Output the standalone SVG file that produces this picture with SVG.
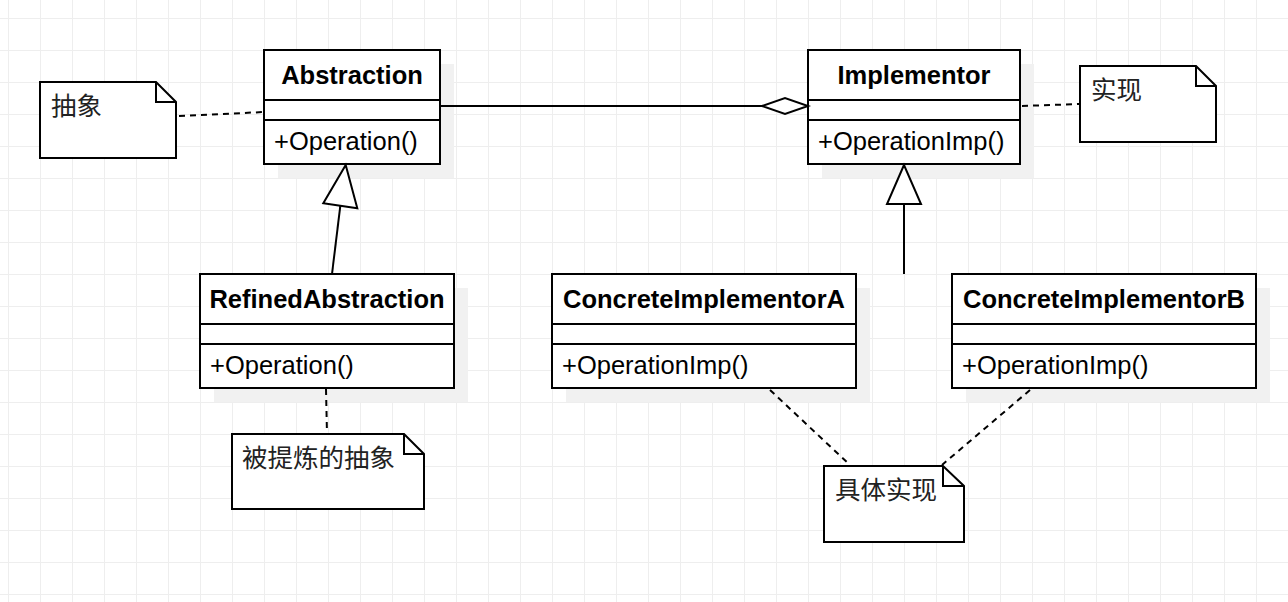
<svg xmlns="http://www.w3.org/2000/svg" width="1288" height="602" viewBox="0 0 1288 602">
<defs>
<pattern id="grid" x="8" y="18" width="32" height="32" patternUnits="userSpaceOnUse">
<path d="M0 0.5H32M0.5 0V32" fill="none" stroke="#eeeeee" stroke-width="1"/>
</pattern>
<style>
.box{fill:#ffffff;stroke:#000000;stroke-width:2}
.shadow{fill:#f1f1f1;stroke:none}
.div{stroke:#000000;stroke-width:2}
.title{font-family:"Liberation Sans",Arial,sans-serif;font-size:25.5px;font-weight:bold;fill:#000000;text-anchor:middle}
.op{font-family:"Liberation Sans",Arial,sans-serif;font-size:25.5px;fill:#000000}
.note{fill:#ffffff;stroke:#000000;stroke-width:2;stroke-linejoin:miter}
.fold{fill:none;stroke:#000000;stroke-width:2}
.ntext{font-family:"Noto Sans CJK SC","Noto Sans",sans-serif;font-size:25.5px;fill:#222222}
.line{fill:none;stroke:#000000;stroke-width:2}
.dash{fill:none;stroke:#000000;stroke-width:2;stroke-dasharray:6 5}
.head{fill:#ffffff;stroke:#000000;stroke-width:2}
</style>
</defs>
<rect x="0" y="0" width="1288" height="602" fill="#ffffff"/>
<rect x="0" y="0" width="1288" height="602" fill="url(#grid)"/>

<g id="shadows">
<rect class="shadow" x="278" y="64" width="176" height="114"/>
<rect class="shadow" x="822" y="64" width="212" height="114"/>
<rect class="shadow" x="214" y="288" width="254" height="114"/>
<rect class="shadow" x="566" y="288" width="304" height="114"/>
<rect class="shadow" x="966" y="288" width="304" height="114"/>
</g>

<g id="Abstraction">
<rect class="box" x="264" y="50" width="176" height="114"/>
<line class="div" x1="264" y1="100" x2="440" y2="100"/>
<line class="div" x1="264" y1="120" x2="440" y2="120"/>
<text class="title" x="352" y="84">Abstraction</text>
<text class="op" x="274" y="150">+Operation()</text>
</g>

<g id="Implementor">
<rect class="box" x="808" y="50" width="212" height="114"/>
<line class="div" x1="808" y1="100" x2="1020" y2="100"/>
<line class="div" x1="808" y1="120" x2="1020" y2="120"/>
<text class="title" x="914" y="84">Implementor</text>
<text class="op" x="818" y="150">+OperationImp()</text>
</g>

<g id="RefinedAbstraction">
<rect class="box" x="200" y="274" width="254" height="114"/>
<line class="div" x1="200" y1="324" x2="454" y2="324"/>
<line class="div" x1="200" y1="344" x2="454" y2="344"/>
<text class="title" x="327" y="308">RefinedAbstraction</text>
<text class="op" x="210" y="374">+Operation()</text>
</g>

<g id="ConcreteImplementorA">
<rect class="box" x="552" y="274" width="304" height="114"/>
<line class="div" x1="552" y1="324" x2="856" y2="324"/>
<line class="div" x1="552" y1="344" x2="856" y2="344"/>
<text class="title" x="704" y="308">ConcreteImplementorA</text>
<text class="op" x="562" y="374">+OperationImp()</text>
</g>

<g id="ConcreteImplementorB">
<rect class="box" x="952" y="274" width="304" height="114"/>
<line class="div" x1="952" y1="324" x2="1256" y2="324"/>
<line class="div" x1="952" y1="344" x2="1256" y2="344"/>
<text class="title" x="1104" y="308">ConcreteImplementorB</text>
<text class="op" x="962" y="374">+OperationImp()</text>
</g>

<g id="note-abstraction">
<path class="note" d="M40 82H156L176 102V158H40Z"/>
<path class="fold" d="M156 82V102H176"/>
<text class="ntext" x="51" y="115">抽象</text>
</g>

<g id="note-implementor">
<path class="note" d="M1080 66H1196L1216 86V142H1080Z"/>
<path class="fold" d="M1196 66V86H1216"/>
<text class="ntext" x="1091" y="99">实现</text>
</g>

<g id="note-refined">
<path class="note" d="M232 434H404L424 454V509H232Z"/>
<path class="fold" d="M404 434V454H424"/>
<text class="ntext" x="242" y="467">被提炼的抽象</text>
</g>

<g id="note-concrete">
<path class="note" d="M824 466H943L964 486V542H824Z"/>
<path class="fold" d="M943 466V486H964"/>
<text class="ntext" x="835" y="499">具体实现</text>
</g>

<g id="connectors">
<line class="line" x1="440" y1="106" x2="762" y2="106"/>
<polygon class="head" points="762,106 785,98 808,106 785,114"/>
<line class="line" x1="332" y1="274" x2="340.3" y2="205.8"/>
<polygon class="head" points="345.7,165 323.3,203.3 357.3,208.3"/>
<line class="line" x1="904" y1="204" x2="904" y2="274"/>
<polygon class="head" points="904,165 887,204 921,204"/>
<line class="dash" x1="179" y1="116" x2="264" y2="112"/>
<line class="dash" x1="1022" y1="106" x2="1080" y2="104"/>
<line class="dash" x1="326" y1="389" x2="327" y2="434"/>
<line class="dash" x1="770" y1="390" x2="850" y2="465"/>
<line class="dash" x1="1030" y1="390" x2="942" y2="465"/>
</g>
</svg>
